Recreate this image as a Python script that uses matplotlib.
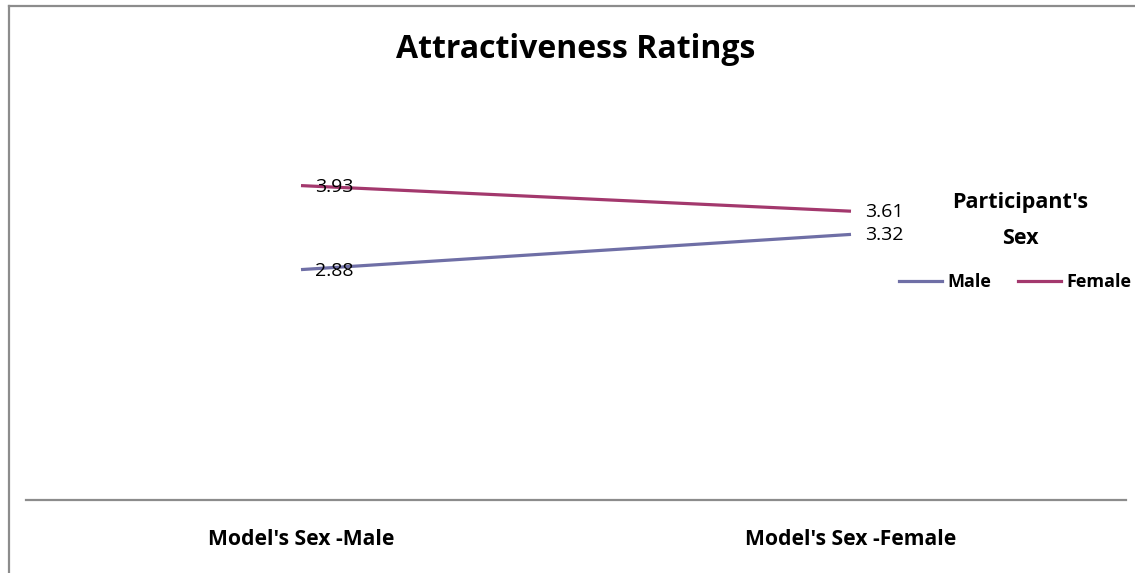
import matplotlib
matplotlib.use("Agg")
import matplotlib.pyplot as plt
from matplotlib.lines import Line2D

plt.rcParams['font.family'] = ['Open Sans', 'DejaVu Sans']

# data
categories = ["Model's Sex -Male", "Model's Sex -Female"]
male = [2.88, 3.32]
female = [3.93, 3.61]
series_names = ["Male", "Female"]
colors = ["#6f6fa6", "#a3386d"]

fig = plt.figure(figsize=(11.35, 5.73), dpi=100)
W, H = 1135, 573
# plot area: x from 26 to 1126 px, y value 0 at 500 px, 5 at 100 px
ax = fig.add_axes([26 / W, 1 - 500 / H, 1100 / W, 400 / H])

x = list(range(len(categories)))
for vals, name, c in zip([male, female], series_names, colors):
    ax.plot(x, vals, color=c, lw=2.3, label=name, solid_capstyle='butt')
    for xi, v in zip(x, vals):
        ax.annotate(f"{v:.2f}", (xi, v), xytext=(14, -1), textcoords='offset pixels',
                    ha='left', va='center', fontsize=14, color='black')

ax.set_xlim(-0.5, len(categories) - 0.5)
ax.set_ylim(0, 5)
ax.set_yticks([])
ax.set_xticks(x)
ax.set_xticklabels(categories, fontsize=15.2, fontweight='bold')
ax.tick_params(axis='x', length=0, pad=21)
for s in ['top', 'right', 'left']:
    ax.spines[s].set_visible(False)
ax.spines['bottom'].set_color('#8c8c8c')
ax.spines['bottom'].set_linewidth(1.6)

fig.text(576 / W, 1 - 50 / H, "Attractiveness Ratings", ha='center', va='center',
         fontsize=23, fontweight='bold')

# legend
fig.text(1020 / W, 1 - 203 / H, "Participant's", ha='center', va='center',
         fontsize=15.5, fontweight='bold')
fig.text(1020 / W, 1 - 238 / H, "Sex", ha='center', va='center',
         fontsize=15.5, fontweight='bold')
handles = [Line2D([], [], color=c, lw=2.3) for c in colors]
leg = fig.legend(handles, series_names, loc='center', bbox_to_anchor=(1015 / W, 1 - 282 / H),
                 ncol=2, frameon=False, handlelength=2.4, columnspacing=1.5,
                 handletextpad=0.28, prop={'weight': 'bold', 'size': 13})

# chart border (left and top visible)
fig.add_artist(Line2D([9 / W, 9 / W], [0, 1 - 6 / H], color='#8c8c8c', lw=1.6,
                      transform=fig.transFigure))
fig.add_artist(Line2D([9 / W, 1], [1 - 6 / H, 1 - 6 / H], color='#8c8c8c', lw=1.6,
                      transform=fig.transFigure))

fig.savefig("out.png", dpi=100)
